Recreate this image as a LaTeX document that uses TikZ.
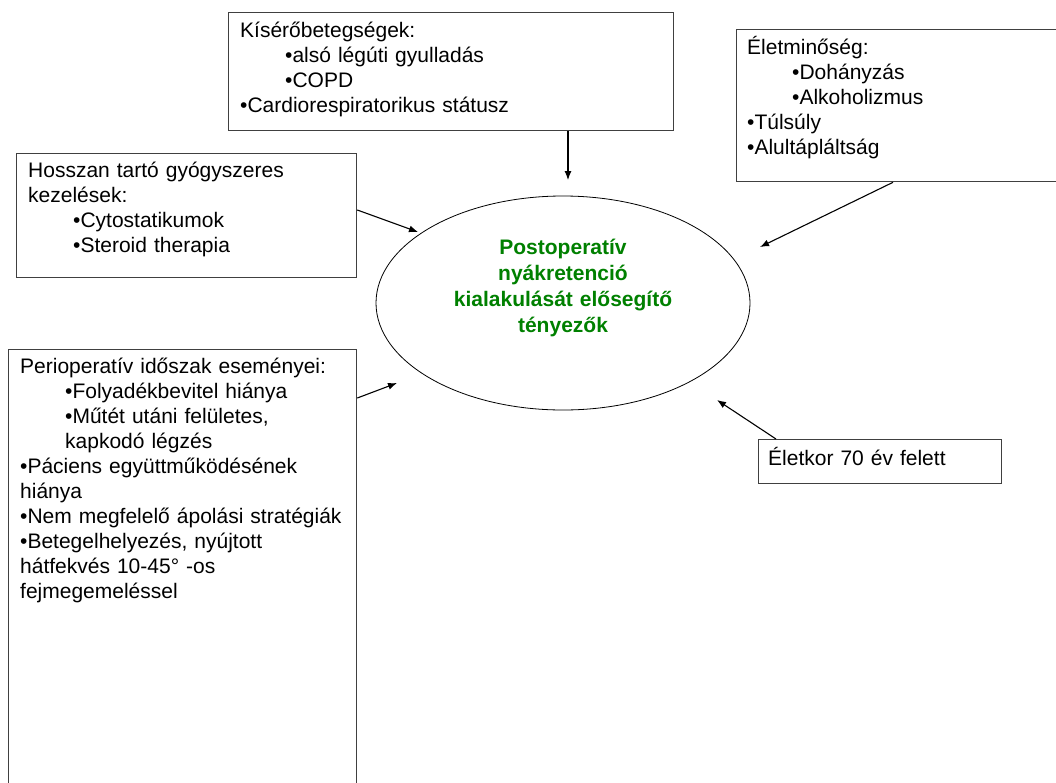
\documentclass[tikz,border=0pt]{standalone}
\usepackage{fontspec}
\setmainfont{Liberation Sans}
\usetikzlibrary{shapes.geometric,arrows.meta}
\newcommand{\bul}{•}
\newcommand{\subbul}{\hspace*{45pt}•}

\begin{document}
\begin{tikzpicture}[x=1pt,y=-1pt,
			box/.style={draw=black!75,line width=1.3pt,anchor=north west,inner sep=0pt},
			txt/.style={anchor=base west,inner sep=0pt,text width=420pt,align=left,font=\fontsize{21}{25}\selectfont},
			arr/.style={-{Latex[length=9pt,width=7pt]},line width=1.1pt}]
			\useasboundingbox (0,0) rectangle (1056,782);

			% boxes
			\node[box,minimum width=445,minimum height=118] (como) at (228,12) {};
			\node[box,minimum width=330,minimum height=152] (life) at (736,29) {};
			\node[box,minimum width=340,minimum height=124] (drug) at (16,153) {};
			\node[box,minimum width=348,minimum height=445] (periop) at (8,349) {};
			\node[box,minimum width=243,minimum height=44] (age) at (758,439) {};

			\node[txt] (comotext) at ([shift={(12,25)}]como.north west) {Kísérőbetegségek:\\ \subbul alsó légúti gyulladás\\ \subbul COPD\\ \bul Cardiorespiratorikus státusz};
			\node[txt] (lifetext) at ([shift={(11,25)}]life.north west) {Életminőség:\\ \subbul Dohányzás\\ \subbul Alkoholizmus\\ \bul Túlsúly\\ \bul Alultápláltság};
			\node[txt] (drugtext) at ([shift={(12,24)}]drug.north west) {Hosszan tartó gyógyszeres\\ kezelések:\\ \subbul Cytostatikumok\\ \subbul Steroid therapia};
			\node[txt] (perioptext) at ([shift={(12,24)}]periop.north west) {Perioperatív időszak eseményei:\\ \subbul Folyadékbevitel hiánya\\ \subbul Műtét utáni felületes,\\ \hspace*{45pt}kapkodó légzés\\ \bul Páciens együttműködésének\\ hiánya\\ \bul Nem megfelelő ápolási stratégiák\\ \bul Betegelhelyezés, nyújtott\\ hátfekvés 10-45° -os\\ fejmegemeléssel};
			\node[txt] (agetext) at ([shift={(10,26)}]age.north west) {Életkor 70 év felett};

			% centre
			\node[draw,ellipse,minimum width=374,minimum height=214,line width=0.8pt] (focus) at (563,303) {};
			\node[anchor=base,inner sep=0pt,text width=330pt,align=center,font=\bfseries\fontsize{21}{26}\selectfont,text=green!50!black] (focustext) at (563,254) {Postoperatív\\ nyákretenció\\ kialakulását elősegítő\\ tényezők};

			% arrows
			\coordinate (t1) at (568,180);
			\coordinate (t2) at (760,247);
			\coordinate (t3) at (418,232);
			\coordinate (t4) at (397,383);
			\coordinate (t5) at (717,400);
			\coordinate (s2) at (893,0);
			\coordinate (s3) at (0,210);
			\coordinate (s4) at (0,398);
			\coordinate (s5) at (776,0);

			\draw[arr] (como.south -| t1) -- (t1);
			\draw[arr] (life.south -| s2) -- (t2);
			\draw[arr] (drug.east |- s3) -- (t3);
			\draw[arr] (periop.east |- s4) -- (t4);
			\draw[arr] (age.north -| s5) -- (t5);
		\end{tikzpicture}
\end{document}
